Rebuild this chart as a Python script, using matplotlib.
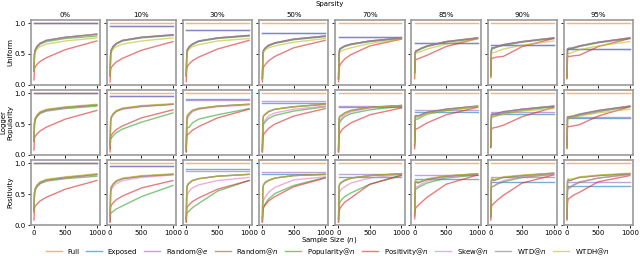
import matplotlib
matplotlib.use("Agg")
from matplotlib import pyplot as plt

sample_sizes = [1, 10, 20, 50, 100, 200, 500, 1000]
sparsities = ["0%", "10%", "30%", "50%", "70%", "85%", "90%", "95%"]
loggers = ["Uniform", "Logger\nPopularity", "Positivity"]
methods = ["Full", "Exposed", "Random@$e$", "Random@$n$", "Popularity@$n$",
           "Positivity@$n$", "Skew@$n$", "WTD@$n$", "WTDH@$n$"]
colors = ["tab:orange", "tab:blue", "tab:purple", "tab:brown", "tab:green",
          "tab:red", "tab:pink", "tab:gray", "tab:olive"]

# flat levels (one per sparsity)
full_level = [1.0, 1.0, 1.0, 1.0, 1.0, 1.0, 1.0, 1.0]

exposed_u = [1.0, 0.95, 0.89, 0.84, 0.77, 0.68, 0.64, 0.58]
random_e_u = [1.0, 0.95, 0.895, 0.845, 0.775, 0.685, 0.645, 0.585]
exposed_lp = [1.0, 0.95, 0.90, 0.84, 0.78, 0.70, 0.66, 0.60]
random_e_lp = [1.0, 0.95, 0.895, 0.87, 0.80, 0.73, 0.69, 0.62]
exposed_p = [1.0, 0.95, 0.90, 0.82, 0.77, 0.74, 0.69, 0.63]
random_e_p = [1.0, 0.95, 0.88, 0.86, 0.82, 0.81, 0.77, 0.69]

# Uniform logger
random_n_u = [
    [0.22, 0.50, 0.56, 0.62, 0.67, 0.72, 0.77, 0.82],
    [0.15, 0.50, 0.56, 0.62, 0.67, 0.72, 0.77, 0.81],
    [0.15, 0.50, 0.57, 0.62, 0.66, 0.71, 0.76, 0.80],
    [0.10, 0.50, 0.56, 0.60, 0.64, 0.68, 0.74, 0.79],
    [0.10, 0.50, 0.58, 0.60, 0.63, 0.66, 0.71, 0.76],
    [0.20, 0.52, 0.55, 0.56, 0.59, 0.63, 0.70, 0.76],
    [0.15, 0.56, 0.60, 0.60, 0.62, 0.65, 0.70, 0.76],
    [0.12, 0.57, 0.59, 0.59, 0.60, 0.63, 0.69, 0.76],
]
popularity_u = [
    [0.22, 0.49, 0.55, 0.61, 0.66, 0.70, 0.75, 0.79],
    [0.15, 0.49, 0.55, 0.61, 0.66, 0.71, 0.76, 0.80],
    [0.15, 0.49, 0.56, 0.61, 0.65, 0.70, 0.75, 0.79],
    [0.10, 0.49, 0.55, 0.59, 0.63, 0.67, 0.73, 0.78],
    [0.10, 0.49, 0.57, 0.59, 0.62, 0.65, 0.70, 0.75],
    [0.20, 0.51, 0.54, 0.55, 0.58, 0.62, 0.69, 0.75],
    [0.15, 0.55, 0.59, 0.59, 0.61, 0.64, 0.69, 0.75],
    [0.12, 0.56, 0.58, 0.58, 0.59, 0.62, 0.68, 0.75],
]
positivity_u = [
    [0.08, 0.25, 0.29, 0.33, 0.38, 0.44, 0.57, 0.71],
    [0.05, 0.24, 0.28, 0.32, 0.37, 0.43, 0.56, 0.70],
    [0.05, 0.26, 0.30, 0.34, 0.39, 0.45, 0.58, 0.72],
    [0.05, 0.26, 0.29, 0.33, 0.39, 0.46, 0.60, 0.72],
    [0.05, 0.28, 0.31, 0.36, 0.42, 0.49, 0.63, 0.74],
    [0.10, 0.38, 0.41, 0.42, 0.44, 0.48, 0.62, 0.75],
    [0.12, 0.40, 0.43, 0.44, 0.45, 0.46, 0.62, 0.75],
    [0.10, 0.44, 0.46, 0.46, 0.47, 0.48, 0.62, 0.75],
]
skew_u = [
    [0.22, 0.51, 0.57, 0.63, 0.68, 0.72, 0.77, 0.82],
    [0.15, 0.51, 0.57, 0.63, 0.67, 0.72, 0.77, 0.81],
    [0.15, 0.51, 0.57, 0.62, 0.66, 0.71, 0.76, 0.80],
    [0.10, 0.51, 0.56, 0.60, 0.64, 0.68, 0.74, 0.79],
    [0.10, 0.51, 0.58, 0.60, 0.63, 0.66, 0.71, 0.76],
    [0.20, 0.53, 0.56, 0.56, 0.59, 0.63, 0.70, 0.76],
    [0.15, 0.57, 0.60, 0.60, 0.62, 0.65, 0.70, 0.76],
    [0.12, 0.58, 0.59, 0.59, 0.60, 0.63, 0.69, 0.76],
]
wtdh_u = [
    [0.22, 0.46, 0.52, 0.58, 0.62, 0.66, 0.71, 0.76],
    [0.15, 0.45, 0.52, 0.58, 0.62, 0.66, 0.71, 0.76],
    [0.15, 0.45, 0.53, 0.58, 0.62, 0.65, 0.71, 0.75],
    [0.08, 0.45, 0.53, 0.57, 0.60, 0.63, 0.69, 0.75],
    [0.10, 0.45, 0.52, 0.55, 0.57, 0.60, 0.67, 0.74],
    [0.15, 0.48, 0.52, 0.52, 0.54, 0.58, 0.66, 0.74],
    [0.12, 0.48, 0.52, 0.52, 0.54, 0.58, 0.64, 0.71],
    [0.10, 0.48, 0.51, 0.51, 0.53, 0.57, 0.63, 0.70],
]

# Logger popularity
random_n_lp = [
    [0.22, 0.52, 0.58, 0.64, 0.69, 0.73, 0.77, 0.81],
    [0.15, 0.55, 0.61, 0.66, 0.71, 0.75, 0.79, 0.82],
    [0.10, 0.58, 0.63, 0.67, 0.72, 0.75, 0.79, 0.82],
    [0.08, 0.58, 0.63, 0.66, 0.70, 0.74, 0.78, 0.82],
    [0.08, 0.58, 0.62, 0.64, 0.68, 0.72, 0.77, 0.80],
    [0.20, 0.63, 0.64, 0.63, 0.65, 0.69, 0.74, 0.79],
    [0.15, 0.64, 0.66, 0.66, 0.67, 0.70, 0.74, 0.79],
    [0.12, 0.61, 0.62, 0.62, 0.63, 0.66, 0.72, 0.79],
]
popularity_lp = [
    [0.22, 0.50, 0.56, 0.62, 0.67, 0.71, 0.75, 0.79],
    [0.10, 0.28, 0.27, 0.31, 0.36, 0.42, 0.53, 0.68],
    [0.05, 0.42, 0.44, 0.45, 0.52, 0.58, 0.65, 0.75],
    [0.05, 0.45, 0.50, 0.54, 0.59, 0.64, 0.71, 0.78],
    [0.05, 0.47, 0.53, 0.57, 0.62, 0.67, 0.73, 0.79],
    [0.15, 0.55, 0.58, 0.58, 0.61, 0.66, 0.72, 0.78],
    [0.12, 0.58, 0.62, 0.62, 0.64, 0.67, 0.72, 0.78],
    [0.10, 0.58, 0.60, 0.60, 0.61, 0.64, 0.70, 0.78],
]
positivity_lp = [
    [0.08, 0.27, 0.30, 0.34, 0.39, 0.45, 0.58, 0.72],
    [0.05, 0.28, 0.32, 0.36, 0.41, 0.47, 0.60, 0.73],
    [0.05, 0.30, 0.33, 0.35, 0.40, 0.46, 0.60, 0.74],
    [0.05, 0.28, 0.33, 0.37, 0.43, 0.50, 0.63, 0.75],
    [0.05, 0.30, 0.35, 0.40, 0.45, 0.52, 0.65, 0.76],
    [0.10, 0.40, 0.42, 0.43, 0.46, 0.52, 0.65, 0.77],
    [0.12, 0.40, 0.43, 0.44, 0.45, 0.48, 0.62, 0.77],
    [0.15, 0.44, 0.46, 0.46, 0.47, 0.49, 0.63, 0.78],
]
skew_lp = [
    [0.22, 0.51, 0.57, 0.63, 0.68, 0.72, 0.76, 0.81],
    [0.15, 0.53, 0.59, 0.65, 0.70, 0.74, 0.78, 0.82],
    [0.08, 0.50, 0.58, 0.64, 0.70, 0.74, 0.78, 0.81],
    [0.05, 0.45, 0.52, 0.57, 0.63, 0.68, 0.74, 0.79],
    [0.05, 0.48, 0.55, 0.60, 0.65, 0.70, 0.76, 0.80],
    [0.18, 0.60, 0.62, 0.62, 0.64, 0.68, 0.74, 0.79],
    [0.15, 0.62, 0.64, 0.64, 0.66, 0.69, 0.74, 0.79],
    [0.12, 0.60, 0.61, 0.61, 0.62, 0.65, 0.71, 0.79],
]
wtdh_lp = [
    [0.22, 0.53, 0.59, 0.65, 0.70, 0.74, 0.78, 0.82],
    [0.15, 0.56, 0.62, 0.67, 0.72, 0.76, 0.80, 0.83],
    [0.10, 0.60, 0.65, 0.68, 0.72, 0.76, 0.79, 0.82],
    [0.08, 0.60, 0.64, 0.67, 0.71, 0.74, 0.78, 0.82],
    [0.08, 0.60, 0.63, 0.65, 0.68, 0.72, 0.77, 0.80],
    [0.18, 0.60, 0.61, 0.61, 0.63, 0.67, 0.72, 0.78],
    [0.15, 0.60, 0.62, 0.62, 0.63, 0.66, 0.71, 0.75],
    [0.12, 0.58, 0.60, 0.60, 0.61, 0.63, 0.68, 0.74],
]

# Positivity logger
random_n_p = [
    [0.22, 0.52, 0.58, 0.64, 0.69, 0.73, 0.77, 0.82],
    [0.15, 0.55, 0.61, 0.66, 0.71, 0.75, 0.79, 0.82],
    [0.10, 0.58, 0.64, 0.68, 0.72, 0.75, 0.79, 0.82],
    [0.10, 0.60, 0.65, 0.69, 0.72, 0.76, 0.80, 0.82],
    [0.10, 0.62, 0.66, 0.69, 0.72, 0.76, 0.80, 0.83],
    [0.20, 0.70, 0.70, 0.68, 0.70, 0.74, 0.79, 0.83],
    [0.15, 0.72, 0.74, 0.72, 0.74, 0.77, 0.80, 0.84],
    [0.12, 0.70, 0.73, 0.72, 0.74, 0.77, 0.80, 0.83],
]
popularity_p = [
    [0.22, 0.50, 0.56, 0.62, 0.67, 0.71, 0.75, 0.79],
    [0.05, 0.19, 0.20, 0.22, 0.26, 0.31, 0.46, 0.64],
    [0.05, 0.18, 0.20, 0.23, 0.28, 0.35, 0.55, 0.72],
    [0.05, 0.22, 0.28, 0.35, 0.42, 0.51, 0.64, 0.77],
    [0.05, 0.30, 0.36, 0.41, 0.46, 0.52, 0.66, 0.81],
    [0.15, 0.55, 0.58, 0.60, 0.63, 0.68, 0.76, 0.81],
    [0.12, 0.60, 0.62, 0.63, 0.66, 0.70, 0.77, 0.82],
    [0.10, 0.58, 0.60, 0.61, 0.64, 0.69, 0.76, 0.82],
]
positivity_p = [
    [0.08, 0.27, 0.30, 0.34, 0.39, 0.45, 0.58, 0.72],
    [0.05, 0.28, 0.32, 0.36, 0.41, 0.47, 0.60, 0.72],
    [0.05, 0.27, 0.30, 0.33, 0.38, 0.44, 0.58, 0.72],
    [0.05, 0.25, 0.29, 0.33, 0.39, 0.46, 0.62, 0.76],
    [0.05, 0.22, 0.26, 0.31, 0.37, 0.44, 0.66, 0.80],
    [0.10, 0.25, 0.28, 0.31, 0.36, 0.45, 0.66, 0.81],
    [0.08, 0.28, 0.32, 0.35, 0.40, 0.48, 0.68, 0.81],
    [0.08, 0.35, 0.42, 0.44, 0.48, 0.53, 0.70, 0.80],
]
skew_p = [
    [0.22, 0.50, 0.56, 0.62, 0.67, 0.72, 0.76, 0.81],
    [0.12, 0.50, 0.57, 0.62, 0.67, 0.72, 0.77, 0.81],
    [0.08, 0.45, 0.50, 0.55, 0.60, 0.65, 0.72, 0.77],
    [0.05, 0.35, 0.40, 0.46, 0.53, 0.61, 0.73, 0.78],
    [0.05, 0.50, 0.54, 0.58, 0.62, 0.68, 0.76, 0.82],
    [0.15, 0.60, 0.62, 0.62, 0.66, 0.71, 0.78, 0.82],
    [0.12, 0.60, 0.62, 0.63, 0.67, 0.72, 0.78, 0.82],
    [0.10, 0.55, 0.58, 0.60, 0.65, 0.70, 0.76, 0.82],
]
wtdh_p = [
    [0.22, 0.53, 0.59, 0.65, 0.70, 0.74, 0.78, 0.83],
    [0.15, 0.56, 0.62, 0.67, 0.72, 0.76, 0.80, 0.83],
    [0.10, 0.62, 0.66, 0.69, 0.72, 0.75, 0.79, 0.82],
    [0.10, 0.62, 0.66, 0.70, 0.73, 0.76, 0.80, 0.82],
    [0.10, 0.64, 0.67, 0.70, 0.73, 0.76, 0.80, 0.83],
    [0.20, 0.72, 0.72, 0.70, 0.71, 0.75, 0.80, 0.83],
    [0.15, 0.74, 0.76, 0.74, 0.75, 0.78, 0.81, 0.84],
    [0.12, 0.72, 0.75, 0.74, 0.75, 0.78, 0.81, 0.84],
]

rows = [
    (exposed_u, random_e_u, random_n_u, popularity_u, positivity_u, skew_u, random_n_u, wtdh_u),
    (exposed_lp, random_e_lp, random_n_lp, popularity_lp, positivity_lp, skew_lp, random_n_lp, wtdh_lp),
    (exposed_p, random_e_p, random_n_p, popularity_p, positivity_p, skew_p, random_n_p, wtdh_p),
]

fs = 5
alpha = 0.6
plt.rcParams["font.size"] = fs
fig, axes = plt.subplots(3, 8, figsize=(6.4, 2.56), dpi=100, sharex=True, sharey=True)
fig.subplots_adjust(left=0.048, right=0.989, top=0.922, bottom=0.121, wspace=0.1, hspace=0.08)

for r, row in enumerate(rows):
    exposed, random_e, random_n, popularity, positivity, skew, wtd, wtdh = row
    for c in range(8):
        ax = axes[r, c]
        flats = [full_level[c], exposed[c], random_e[c]]
        for i, level in enumerate(flats):
            ax.plot([sample_sizes[0], sample_sizes[-1]], [level, level],
                    color=colors[i], alpha=alpha, lw=1.0)
        curves = [random_n[c], popularity[c], positivity[c], skew[c], wtd[c], wtdh[c]]
        for i, ys in enumerate(curves):
            ax.plot(sample_sizes, ys, color=colors[i + 3], alpha=alpha, lw=1.0)
        for s in ax.spines.values():
            s.set_color("#999999")
            s.set_linewidth(1.2)
        ax.tick_params(length=2, width=0.6, pad=1.5, labelsize=fs)
        ax.set_ylim(0, 1.05)
        ax.set_xlim(-50, 1050)
        ax.set_yticks([0.0, 0.5, 1.0])
        ax.set_xticks([0, 500, 1000])
        if r == 0:
            ax.set_title(sparsities[c], fontsize=fs, pad=2)
        if c == 0:
            ax.set_ylabel(loggers[r], fontsize=fs, labelpad=1)

handles = []
for i, name in enumerate(methods):
    handles.append(plt.Line2D([], [], color=colors[i], alpha=alpha, lw=1.0, label=name))

fig.text(0.515, 0.984, "Sparsity", ha="center", va="center", fontsize=fs)
fig.text(0.515, 0.0625, "Sample Size ($n$)", ha="center", va="center", fontsize=fs)
fig.legend(handles=handles, loc="center", bbox_to_anchor=(0.512, 0.018), ncol=9,
           frameon=False, fontsize=fs, handlelength=2.3, columnspacing=1.0,
           borderpad=0, borderaxespad=0)

plt.savefig("out.png")
